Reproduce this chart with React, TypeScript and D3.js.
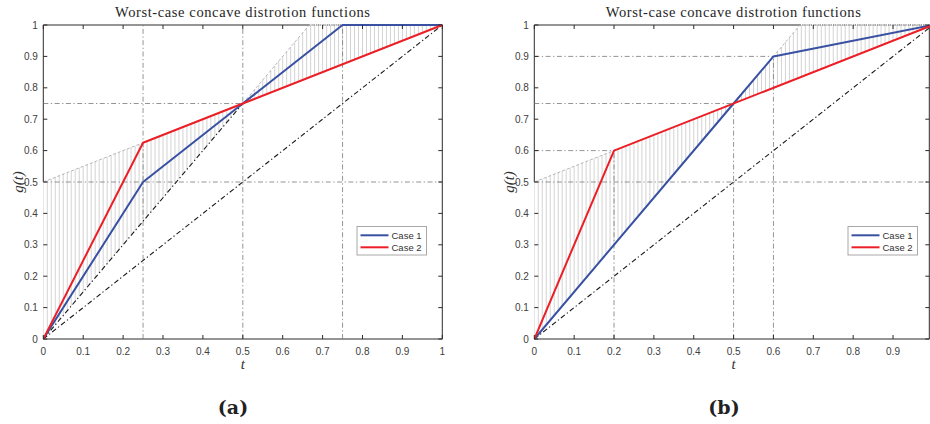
import React from "react";
import * as d3 from "d3";

const TITLE = "Worst-case concave distrotion functions";
const tickValues = [0, 0.1, 0.2, 0.3, 0.4, 0.5, 0.6, 0.7, 0.8, 0.9, 1];
const tickLabels = ["0", "0.1", "0.2", "0.3", "0.4", "0.5", "0.6", "0.7", "0.8", "0.9", "1"];
const seriesNames = ["Case 1", "Case 2"];

// Panel (a)
const aCase1T = [0, 0.25, 0.5, 0.75, 1];
const aCase1G = [0, 0.5, 0.75, 1, 1];
const aCase2T = [0, 0.25, 0.5, 1];
const aCase2G = [0, 0.625, 0.75, 1];
const aSteepT = [0, 0.5];
const aSteepG = [0, 0.75];
// reference lines: [t, gFrom, gTo] and [g, tFrom, tTo]
const aVRefs = [[0.25, 0, 1], [0.5, 0, 1], [0.75, 0, 1]];
const aHRefs = [[0.5, 0, 1], [0.75, 0, 0.5]];

// Panel (b)
const bCase1T = [0, 0.5, 0.6, 1];
const bCase1G = [0, 0.75, 0.9, 1];
const bCase2T = [0, 0.2, 1];
const bCase2G = [0, 0.6, 1];
const bVRefs = [[0.2, 0, 0.6], [0.5, 0, 0.75], [0.6, 0, 0.9]];
const bHRefs = [[0.5, 0, 1], [0.6, 0, 0.2], [0.75, 0, 0.5], [0.9, 0, 0.6]];

// shaded (hatched) feasible region bounds, shared by both panels
const upperT = [0, 0.5, 2 / 3, 1];
const upperG = [0.5, 0.75, 1, 1];
const lowerT = [0, 0.5, 1];
const lowerG = [0, 0.75, 1];
const diagT = [0, 1];
const diagG = [0, 1];

const BLUE = "#3951a3";
const RED = "#ec1f27";

function interp(ts: number[], gs: number[], t: number) {
  for (let i = 0; i < ts.length - 1; i++) {
    if (t >= ts[i] - 1e-9 && t <= ts[i + 1] + 1e-9) {
      const f = (t - ts[i]) / (ts[i + 1] - ts[i]);
      return gs[i] + f * (gs[i + 1] - gs[i]);
    }
  }
  return gs[gs.length - 1];
}

type PanelProps = {
  id: string;
  x0: number;
  x1: number;
  tMax: number;
  titleX: number;
  legendX: number;
  letter: string;
  letterX: number;
  c1T: number[];
  c1G: number[];
  c2T: number[];
  c2G: number[];
  vRefs: number[][];
  hRefs: number[][];
  steep?: { t: number[]; g: number[] };
  showLastXLabel: boolean;
};

function Panel(p: PanelProps) {
  const y0 = 339;
  const y1 = 25;
  const x = d3.scaleLinear().domain([0, p.tMax]).range([p.x0, p.x1]);
  const y = d3.scaleLinear().domain([0, 1]).range([y0, y1]);
  const line = d3
    .line<[number, number]>()
    .x((d) => x(d[0]))
    .y((d) => y(d[1]));
  const pts = (ts: number[], gs: number[]) => ts.map((t, i) => [t, gs[i]] as [number, number]);

  const hatchTs = d3.range(0, 100.5, 1).map((k) => k / 100);
  const polyA = [...pts(upperT, upperG).filter((d) => d[0] <= 0.5), ...pts(lowerT, lowerG).filter((d) => d[0] <= 0.5).reverse()];
  const polyB = [...pts(upperT, upperG).filter((d) => d[0] >= 0.5), ...pts(lowerT, lowerG).filter((d) => d[0] >= 0.5).reverse()];

  const tk = 4;
  const dashDot = "5 2.5 1.3 2.5";
  const clip = `clip-${p.id}`;
  const xEnd = p.x1;
  const legY = 226.5;
  const legW = 69.5;
  const legH = 28.5;

  return (
    <g>
      <defs>
        <clipPath id={clip}>
          <rect x={p.x0} y={y1 - 1} width={p.x1 - p.x0 + 1} height={y0 - y1 + 2} />
        </clipPath>
      </defs>
      {/* title */}
      <text x={p.titleX} y={17} textAnchor="middle" fontFamily="'Liberation Serif', 'DejaVu Serif', serif" fontSize={14.5} fill="#262626" textLength={255} lengthAdjust="spacing">
        {TITLE}
      </text>
      {/* frame segments */}
      <g stroke="#2b2b2b" strokeWidth={1} fill="none">
        <line x1={p.x0} x2={xEnd} y1={y0} y2={y0} />
        <line x1={xEnd} x2={xEnd} y1={y0} y2={y1} />
        <line x1={p.x0} x2={p.x0} y1={y(0.5)} y2={y1} />
        <line x1={p.x0} x2={x(2 / 3)} y1={y1} y2={y1} />
      </g>
      <g clipPath={`url(#${clip})`}>
        {/* hatched region */}
        <path d={line(polyA) + "Z"} fill="#fff" stroke="none" />
        <path d={line(polyB) + "Z"} fill="#fff" stroke="none" />
        <g stroke="#c4c4c4" strokeWidth={0.75}>
          {hatchTs.map((t, i) => {
            const a = interp(upperT, upperG, t);
            const b = interp(lowerT, lowerG, t);
            return <line key={i} x1={x(t)} x2={x(t)} y1={y(a)} y2={y(b)} />;
          })}
        </g>
        {/* dotted top edge of region */}
        <line x1={x(2 / 3)} x2={xEnd} y1={y1} y2={y1} stroke="#333" strokeWidth={0.9} strokeDasharray="1 1.2" />
        {/* reference lines */}
        <g stroke="#7a7a7a" strokeWidth={0.8} strokeDasharray={dashDot} fill="none">
          {p.vRefs.map((r, i) => (
            <line key={"v" + i} x1={x(r[0])} x2={x(r[0])} y1={y(r[1])} y2={y(r[2])} />
          ))}
          {p.hRefs.map((r, i) => (
            <line key={"h" + i} x1={x(r[1])} x2={x(r[2])} y1={y(r[0])} y2={y(r[0])} />
          ))}
        </g>
        {/* thin dashed region boundary */}
        <path d={line(pts(upperT, upperG))!} fill="none" stroke="#9a9a9a" strokeWidth={0.7} strokeDasharray="3 2" />
        {/* black dash-dot lines */}
        <g stroke="#1a1a1a" strokeWidth={1.1} strokeDasharray={dashDot} fill="none">
          <path d={line(pts(diagT, diagG))!} />
          {p.steep && <path d={line(pts(p.steep.t, p.steep.g))!} />}
        </g>
        {/* main series */}
        <path d={line(pts(p.c1T, p.c1G))!} fill="none" stroke={BLUE} strokeWidth={2} strokeLinejoin="round" />
        <path d={line(pts(p.c2T, p.c2G))!} fill="none" stroke={RED} strokeWidth={2} strokeLinejoin="round" />
      </g>
      {/* ticks */}
      <g stroke="#2b2b2b" strokeWidth={1}>
        {tickValues.filter((t) => t <= p.tMax + 1e-9).map((t, i) => (
          <g key={"xt" + i}>
            <line x1={x(t)} x2={x(t)} y1={y0} y2={y0 - tk} />
            <line x1={x(t)} x2={x(t)} y1={y1} y2={y1 + tk} />
          </g>
        ))}
        {tickValues.map((g, i) => (
          <g key={"yt" + i}>
            <line x1={p.x0} x2={p.x0 + tk} y1={y(g)} y2={y(g)} />
            <line x1={xEnd} x2={xEnd - tk} y1={y(g)} y2={y(g)} />
          </g>
        ))}
      </g>
      <g fontFamily="'Liberation Sans', Arial, sans-serif" fontSize={10} fill="#404040">
        {tickValues.map((t, i) =>
          t <= p.tMax + 1e-9 || p.showLastXLabel ? (
            <text key={"xl" + i} x={x(t)} y={354.5} textAnchor="middle">
              {tickLabels[i]}
            </text>
          ) : null
        )}
        {tickValues.map((g, i) => (
          <text key={"yl" + i} x={p.x0 - 5.5} y={y(g) + 3.5} textAnchor="end">
            {tickLabels[i]}
          </text>
        ))}
      </g>
      {/* axis labels */}
      <text x={x(0.5)} y={369} textAnchor="middle" fontFamily="'Liberation Serif', 'DejaVu Serif', serif" fontStyle="italic" fontSize={15} fill="#333">
        t
      </text>
      <text transform={`translate(${p.x0 - 20},${y(0.5)}) rotate(-90)`} textAnchor="middle" fontFamily="'Liberation Serif', 'DejaVu Serif', serif" fontStyle="italic" fontSize={15} fill="#333">
        g(t)
      </text>
      {/* legend */}
      <g>
        <rect x={p.legendX} y={legY} width={legW} height={legH} fill="#fff" stroke="#a8a8a8" strokeWidth={1} />
        {[BLUE, RED].map((c, i) => (
          <g key={"lg" + i}>
            <line x1={p.legendX + 3.5} x2={p.legendX + 31.5} y1={legY + 8.8 + i * 12} y2={legY + 8.8 + i * 12} stroke={c} strokeWidth={2} />
            <text x={p.legendX + 34.5} y={legY + 12.2 + i * 12} fontFamily="'Liberation Sans', Arial, sans-serif" fontSize={9.5} fill="#333">
              {seriesNames[i]}
            </text>
          </g>
        ))}
      </g>
      {/* panel letter */}
      <text x={p.letterX} y={414} textAnchor="middle" fontFamily="'DejaVu Serif', 'Liberation Serif', serif" fontWeight="bold" fontSize={19} fill="#222">
        {p.letter}
      </text>
    </g>
  );
}

export default function App() {
  return (
    <svg width={930} height={424} style={{ position: "absolute", left: 0, top: 0, background: "#fff" }}>
      <rect x={0} y={0} width={930} height={424} fill="#fff" />
      <Panel
        id="a"
        x0={43.3}
        x1={442.3}
        tMax={1}
        titleX={242.5}
        legendX={357}
        letter="(a)"
        letterX={233}
        c1T={aCase1T}
        c1G={aCase1G}
        c2T={aCase2T}
        c2G={aCase2G}
        vRefs={aVRefs}
        hRefs={aHRefs}
        steep={{ t: aSteepT, g: aSteepG }}
        showLastXLabel={true}
      />
      <Panel
        id="b"
        x0={534.3}
        x1={929.3}
        tMax={0.991}
        titleX={733.3}
        legendX={848}
        letter="(b)"
        letterX={724}
        c1T={bCase1T}
        c1G={bCase1G}
        c2T={bCase2T}
        c2G={bCase2G}
        vRefs={bVRefs}
        hRefs={bHRefs}
        showLastXLabel={false}
      />
    </svg>
  );
}
